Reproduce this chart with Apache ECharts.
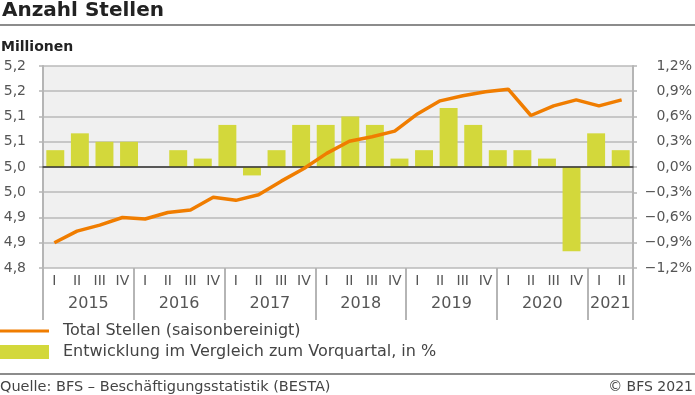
<!DOCTYPE html>
<html><head><meta charset="utf-8">
<script src="https://cdn.jsdelivr.net/npm/echarts@6/dist/echarts.min.js"></script>
<style>html,body{margin:0;padding:0;background:#fff}#c{width:695px;height:395px}</style>
</head><body><div id="c"></div>
<script>
// Categories (quarters) for the line
const quarters = ['2015 I','2015 II','2015 III','2015 IV','2016 I','2016 II','2016 III','2016 IV',
  '2017 I','2017 II','2017 III','2017 IV','2018 I','2018 II','2018 III','2018 IV',
  '2019 I','2019 II','2019 III','2019 IV','2020 I','2020 II','2020 III','2020 IV','2021 I','2021 II'];
// The bar series in the reference is laid out over 24 slots
const barQuarters = ['2015 I','2015 II','2015 III','2015 IV','2016 I','2016 II','2016 III','2016 IV',
  '2017 I','2017 II','2017 III','2017 IV','2018 I','2018 II','2018 III','2018 IV',
  '2019 I','2019 II','2019 III','2019 IV','2020 I','2020 II','2020 III','2020 IV'];
// Total Stellen (saisonbereinigt), millions
const totalJobs = [4.850,4.873,4.885,4.900,4.897,4.910,4.915,4.940,4.934,4.945,4.972,4.997,5.027,
  5.051,5.060,5.071,5.105,5.131,5.141,5.149,5.154,5.102,5.121,5.133,5.121,5.133];
// Entwicklung im Vergleich zum Vorquartal, %
const changePct = [0.2,0.4,0.3,0.3,0.0,0.2,0.1,0.5,-0.1,0.2,0.5,0.5,0.6,0.5,0.1,0.2,0.7,0.5,0.2,0.2,0.1,-1.0,0.4,0.2];
// Tick labels
const leftTickLabels = ['4,8','4,9','4,9','5,0','5,0','5,1','5,1','5,2','5,2'];
const rightTickLabels = ['\u22121,2%','\u22120,9%','\u22120,6%','\u22120,3%','0,0%','0,3%','0,6%','0,9%','1,2%'];

const FONT = 'DejaVu Sans';
const GREY = '#b5b5b5';
const chart = echarts.init(document.getElementById('c'), null, {renderer: 'canvas'});
const catW = (695 - 43 - 61) / quarters.length;

chart.setOption({
  animation: false,
  textStyle: {fontFamily: FONT},
  title: {text: 'Anzahl Stellen', left: 2, top: 1, padding: 0,
    textStyle: {fontFamily: FONT, fontSize: 20, fontWeight: 'bold', color: '#222'}},
  grid: {left: 43, right: 61, top: 66, bottom: 127, show: true, backgroundColor: '#f0f0f0', borderWidth: 0},
  legend: {orient: 'vertical', left: 0, top: 323, padding: 0, itemWidth: 49, itemHeight: 14, itemGap: 5,
    textStyle: {fontFamily: FONT, fontSize: 16, color: '#444', padding: [0,0,0,9]},
    data: [
      {name: 'Total Stellen (saisonbereinigt)', icon: 'path://M0,0M0,5.4h49v3.2h-49zM49,14'},
      {name: 'Entwicklung im Vergleich zum Vorquartal, in %', icon: 'rect'}]},
  xAxis: [
    {type: 'category', data: quarters, position: 'bottom',
      axisLine: {show: false, onZero: false}, axisTick: {show: false},
      axisLabel: {interval: 0, margin: 6, fontSize: 14, color: '#555',
        formatter: v => v.split(' ')[1]}},
    {type: 'category', data: quarters, position: 'bottom',
      axisLine: {show: false, onZero: false},
      axisTick: {show: true, interval: i => i % 4 === 0, length: 52, lineStyle: {color: GREY, width: 2}},
      axisLabel: {interval: 0, margin: 28, fontSize: 16, color: '#555', padding: [0,0,0,catW],
        formatter: (v, i) => ((i % 4 === 1 && i < 24) || i === 24) ? v.split(' ')[0] : ''}},
    {type: 'category', data: quarters, position: 'bottom', z: 3,
      axisLine: {show: true, onZero: true, onZeroAxisIndex: 1, lineStyle: {color: '#333', width: 1.5}},
      axisTick: {show: false}, axisLabel: {show: false}},
    {type: 'category', data: barQuarters, show: false, axisLine: {onZero: false}}
  ],
  yAxis: [
    {type: 'value', position: 'left', min: 4.8, max: 5.2, interval: 0.05,
      axisLine: {show: true, lineStyle: {color: GREY, width: 2}},
      axisTick: {show: true, length: 4, lineStyle: {color: GREY, width: 1.5}},
      axisLabel: {margin: 17, fontSize: 14, color: '#555', formatter: (v, i) => leftTickLabels[i]},
      splitLine: {show: true, lineStyle: {color: '#bababa', width: 1.5}}},
    {type: 'value', position: 'right', min: -1.2, max: 1.2, interval: 0.3,
      axisLine: {show: true, lineStyle: {color: GREY, width: 2}},
      axisTick: {show: true, length: 4, lineStyle: {color: GREY, width: 1.5}},
      axisLabel: {margin: 59, align: 'right', fontSize: 14, color: '#555', formatter: (v, i) => rightTickLabels[i]},
      splitLine: {show: false}}
  ],
  series: [
    {name: 'Entwicklung im Vergleich zum Vorquartal, in %', type: 'bar', xAxisIndex: 3, yAxisIndex: 1,
      data: changePct, barCategoryGap: '27%', z: 2, itemStyle: {color: '#d3d83b'}},
    {name: 'Total Stellen (saisonbereinigt)', type: 'line', xAxisIndex: 0, yAxisIndex: 0,
      data: totalJobs, symbol: 'none', z: 4, lineStyle: {color: '#f07d00', width: 3.5}, itemStyle: {color: '#f07d00'}}
  ],
  graphic: [
    {type: 'line', shape: {x1: 0, y1: 25, x2: 695, y2: 25}, style: {stroke: '#666', lineWidth: 1.5}},
    {type: 'text', left: 1, top: 40, style: {text: 'Millionen', fontFamily: FONT, fontSize: 14, fontWeight: 'bold', fill: '#222'}},
    {type: 'line', shape: {x1: 0, y1: 374, x2: 695, y2: 374}, style: {stroke: '#666', lineWidth: 1.5}},
    {type: 'text', left: 0, top: 380, style: {text: 'Quelle: BFS \u2013 Besch\u00e4ftigungsstatistik (BESTA)', fontFamily: FONT, fontSize: 14.5, fill: '#444'}},
    {type: 'text', right: 2, top: 380, style: {text: '\u00a9 BFS 2021', fontFamily: FONT, fontSize: 14, fill: '#444'}}
  ]
});
</script>
</body></html>
